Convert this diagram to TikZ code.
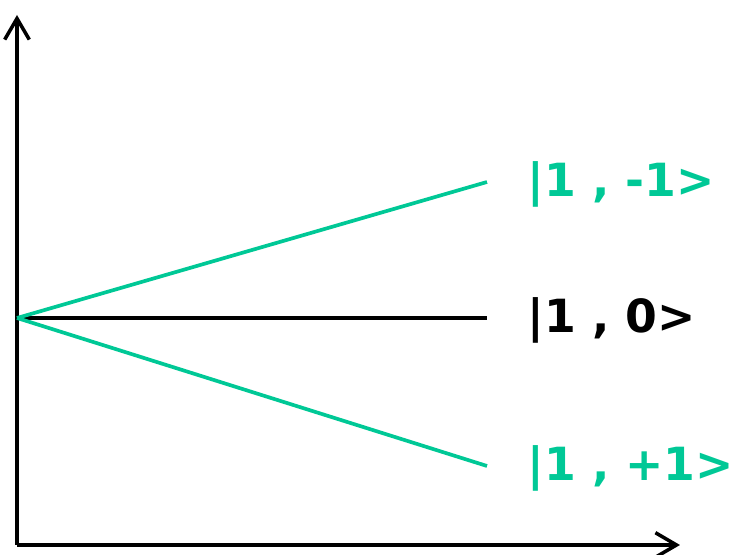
\documentclass[tikz,border=0pt]{standalone}
\usepackage{fontspec}
\setmainfont{DejaVu Sans}
\usepackage{xcolor}
\usetikzlibrary{arrows.meta}
\definecolor{stategreen}{RGB}{0,200,150}
\tikzset{
  axis/.style={line width=1pt, -{Straight Barb[length=6pt,width=7pt,line width=1pt]}},
  level/.style={line width=1.05pt},
  ket/.style={anchor=west, inner sep=0pt, font=\bfseries\fontsize{13pt}{13pt}\selectfont}
}
\begin{document}
\begin{tikzpicture}[x=0.01cm, y=-0.01cm]
\useasboundingbox (0,0) rectangle (732,555);
\coordinate (origin) at (17,545);
\coordinate (split) at (17,318);
\coordinate (ytop) at (17,15);
\coordinate (xend) at (680,545);
\draw [axis] (origin)--(ytop);
\draw [axis] (origin)--(xend);
% Zeeman levels
\node[ket, text=stategreen] (up) at (527,184) {|1 , -1>};
\node[ket] (mid) at (527,320) {|1 , 0>};
\node[ket, text=stategreen] (down) at (527,468) {|1 , +1>};
\coordinate (upend) at (487,182);
\coordinate (midend) at (487,318);
\coordinate (downend) at (487,466);
\draw [level] (split)--(midend);
\draw [level, stategreen] (split)--(upend);
\draw [level, stategreen] (split)--(downend);
\end{tikzpicture}
\end{document}
